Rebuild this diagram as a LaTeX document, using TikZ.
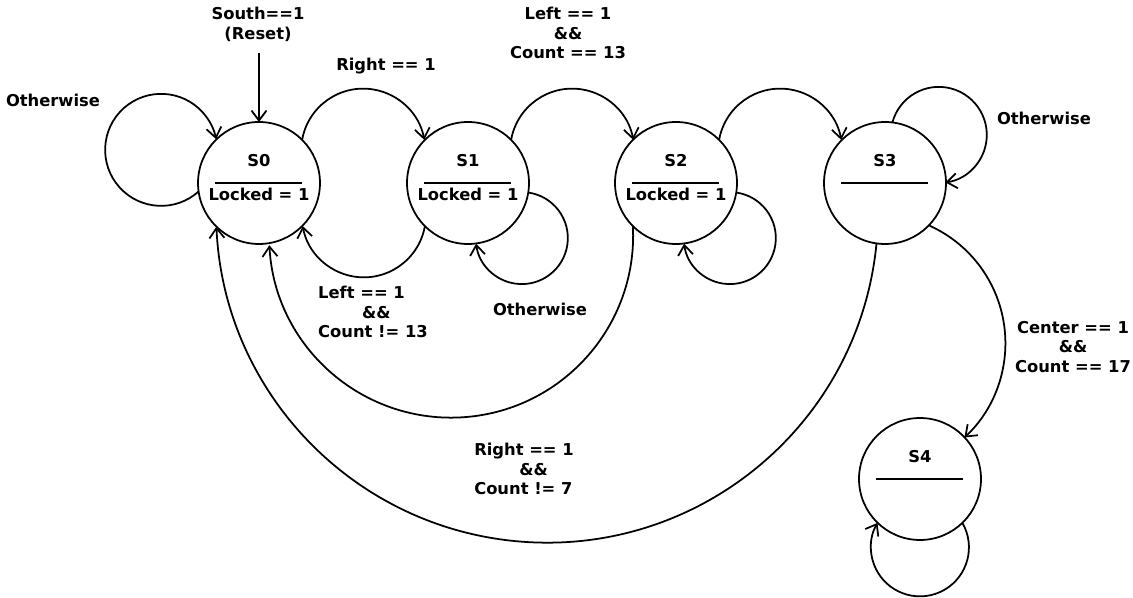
\documentclass[tikz,border=0pt]{standalone}
\usepackage{fontspec}
\setmainfont{DejaVu Sans}
\usetikzlibrary{arrows.meta,automata}

\begin{document}
\begin{tikzpicture}
[x=0.02cm,y=0.02cm,->,>={Straight Barb[length=2mm,width=3mm]},line width=1pt,
 font=\fontsize{9.3}{11.3}\selectfont\bfseries]
  \tikzstyle{every state}=[fill=white,draw=black,text=black,minimum size=2.44cm,inner sep=0pt,outer sep=0pt]
  \tikzstyle{lbl}=[align=center,inner sep=0pt]
  \useasboundingbox (0,0) rectangle (1133,598);

  \node[state] (S0) at (259,415) {};
  \node[state] (S1) at (468,415) {};
  \node[state] (S2) at (676,415) {};
  \node[state] (S3) at (885,415) {};
  \node[state] (S4) at (920,119) {};

  % state texts
  \path (S0) ++(0,22) node {S0} ++(0,-33) node {Locked = 1};
  \path (S1) ++(0,22) node {S1} ++(0,-33) node {Locked = 1};
  \path (S2) ++(0,22) node {S2} ++(0,-33) node {Locked = 1};
  \path (S3) ++(0,22) node {S3};
  \path (S4) ++(0,22) node {S4};
  \draw[-] (S0) ++(-44,0) -- ++(87,0);
  \draw[-] (S1) ++(-44,0) -- ++(87,0);
  \draw[-] (S2) ++(-44,0) -- ++(87,0);
  \draw[-] (S3) ++(-44,0) -- ++(87,0);
  \draw[-] (S4) ++(-44,0) -- ++(87,0);

  % reset
  \coordinate (rst) at (259,545);
  \draw (rst) -- (S0);
  \node[lbl] at (258,574) {South==1\\(Reset)};

  % transitions
  \draw (S0.188) arc[start angle=-48,end angle=-349,radius=56];
  \draw (S0.45) arc[start angle=170,end angle=10,radius=62];
  \draw (S1.225) arc[start angle=-10,end angle=-170,radius=62];
  \draw (S1.45) arc[start angle=170,end angle=10,radius=62];
  \draw (S2.45) arc[start angle=170,end angle=10,radius=62];
  \draw (S1.351) arc[start angle=82,end angle=-173,radius=46];
  \draw (S2.351) arc[start angle=82,end angle=-173,radius=46];
  \draw (S2.225) arc[start angle=3,end angle=-177,radius=182];
  \draw (S3.262) arc[start angle=-5.5,end angle=-177.4,radius=331];
  \draw (S3.83) arc[start angle=165,end angle=-82,radius=48];
  \draw (S3.316) arc[start angle=66,end angle=-47,radius=129];
  \draw (S4.314) arc[start angle=30,end angle=-210,radius=49];

  % labels
  \node[lbl] at (53,498) {Otherwise};
  \node[lbl] at (386,532) {Right == 1};
  \node[lbl] at (568,565) {Left == 1\\\&\&\\Count == 13};
  \node[lbl] at (1044,480) {Otherwise};
  \node[lbl,align=left] at (373,286) {Left == 1\\\hspace*{0.88cm}\&\&\\Count != 13};
  \node[lbl] at (540,289) {Otherwise};
  \node[lbl] at (1073,251) {Center == 1\\\&\&\\Count == 17};
  \node[lbl,align=left] at (524,129) {Right == 1\\\hspace*{0.9cm}\&\&\\Count != 7};
\end{tikzpicture}
\end{document}
